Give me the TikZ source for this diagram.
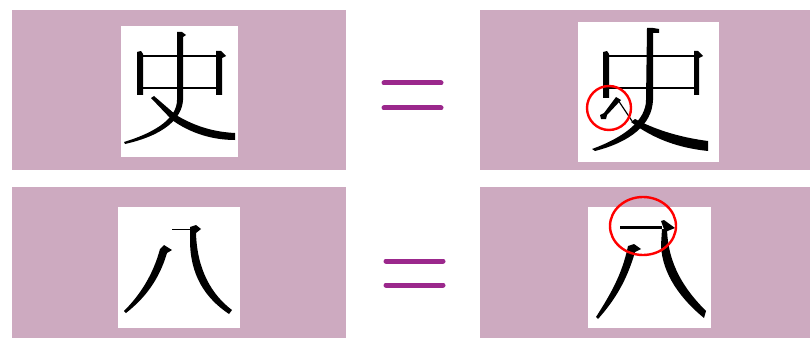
\documentclass[tikz,border=0pt]{standalone}
\definecolor{panel}{RGB}{205,170,192}
\definecolor{eqpurple}{RGB}{155,40,140}
\tikzset{
  panelbox/.style={fill=panel, draw=none},
  glyphbg/.style={fill=white, draw=none},
  ink/.style={fill=black, draw=none},
  eqbar/.style={draw=eqpurple, line width=5pt, line cap=round},
  redring/.style={draw=red, line width=2.4pt}
}
\begin{document}
\begin{tikzpicture}[x=1pt,y=-1pt]
\useasboundingbox (0,0) rectangle (810,342);
% panels
\fill[panelbox] (12,10) rectangle (346,170);
\fill[panelbox] (480,10) rectangle (810,170);
\fill[panelbox] (12,187) rectangle (346,338);
\fill[panelbox] (480,187) rectangle (810,338);
% white glyph images
\fill[glyphbg] (121,26) rectangle (238,157);
\fill[glyphbg] (578,22) rectangle (719,162);
\fill[glyphbg] (118,207) rectangle (240,328);
\fill[glyphbg] (588,207) rectangle (711,328);

% ---------- TL 史 ----------
\fill[ink] (137,52) -- (141,51) -- (143,54) -- (143,95) -- (137,95) -- cycle;
\fill[ink] (143,55) rectangle (218,57);
\fill[ink] (143,87) rectangle (218,89.5);
\fill[ink] (216,54) -- (216,51) -- (221,51) -- (226,56) -- (222,58) -- (222,95) -- (216,95) -- cycle;
\fill[ink] (177,32) -- (182,32) -- (186,35) -- (183,37) -- (183,100)
   .. controls (182,118) and (165,135) .. (125,144) -- (124,142)
   .. controls (160,131) and (177,116) .. (177,100) -- cycle;
\fill[ink] (151,98) -- (154,96) -- (176,115)
   .. controls (196,127) and (215,132) .. (235,133) -- (235,140)
   .. controls (212,140) and (190,133) .. (172,120) -- cycle;

% ---------- TR 史 (modified) ----------
\fill[ink] (603,52) -- (607,51) -- (609,54) -- (609,98) -- (603,98) -- cycle;
\fill[ink] (609,55) rectangle (695,57);
\fill[ink] (609,87) rectangle (695,89);
\fill[ink] (694,55) -- (694,51) -- (698,51) -- (703,56) -- (699,58) -- (699,95) -- (694,95) -- cycle;
\fill[ink] (647,28) -- (653,28) -- (659,29) -- (659,33) -- (653,33) -- (653,100)
   .. controls (652,125) and (630,142) .. (595,151) -- (592,149)
   .. controls (625,137) and (646,120) .. (646,100) -- cycle;
\fill[ink] (631,122) -- (635,119) .. controls (660,132) and (685,138) .. (708,141)
   -- (708,151) .. controls (680,148) and (655,140) .. (631,122) -- cycle;
\fill[ink] (616,97) -- (621,100) -- (607,115) -- (606,119) -- (601,119) -- (600,115) -- (604,113) -- cycle;
\draw[line width=1.2pt] (618,100) -- (632,121);
\draw[redring] (609,108) circle[radius=22];

% ---------- BL 八 ----------
\fill[ink] (172,228.5) rectangle (192,230);
\fill[ink] (190,227) -- (196,225) -- (201,229) -- (196,233)
   .. controls (197,270) and (212,295) .. (232,310) -- (229,314)
   .. controls (205,298) and (190,275) .. (190,240) -- cycle;
\fill[ink] (160,249) -- (164,245) -- (172,250) -- (167,253)
   .. controls (159,280) and (145,298) .. (126,313) -- (124,311)
   .. controls (140,295) and (153,275) .. (160,249) -- cycle;

% ---------- BR 八 (modified) ----------
\fill[ink] (620,226) rectangle (662,228.5);
\fill[ink] (661,221) -- (664,220) -- (675,228) -- (665,232) -- cycle;
\fill[ink] (662,229) -- (667,229) .. controls (668,265) and (685,290) .. (706,311)
   -- (704,318) .. controls (682,300) and (662,275) .. (661,245) -- cycle;
\fill[ink] (628,246) -- (634,244) -- (641,249) -- (635,252)
   .. controls (627,280) and (615,300) .. (598,319) -- (596,317)
   .. controls (610,295) and (622,275) .. (628,246) -- cycle;
\draw[redring] (643,226) ellipse[x radius=33, y radius=29];

% ---------- equals signs ----------
\draw[eqbar] (384,83) -- (441,83);
\draw[eqbar] (384,108) -- (441,108);
\draw[eqbar] (386,261) -- (443,261);
\draw[eqbar] (386,285) -- (443,285);
\end{tikzpicture}
\end{document}
